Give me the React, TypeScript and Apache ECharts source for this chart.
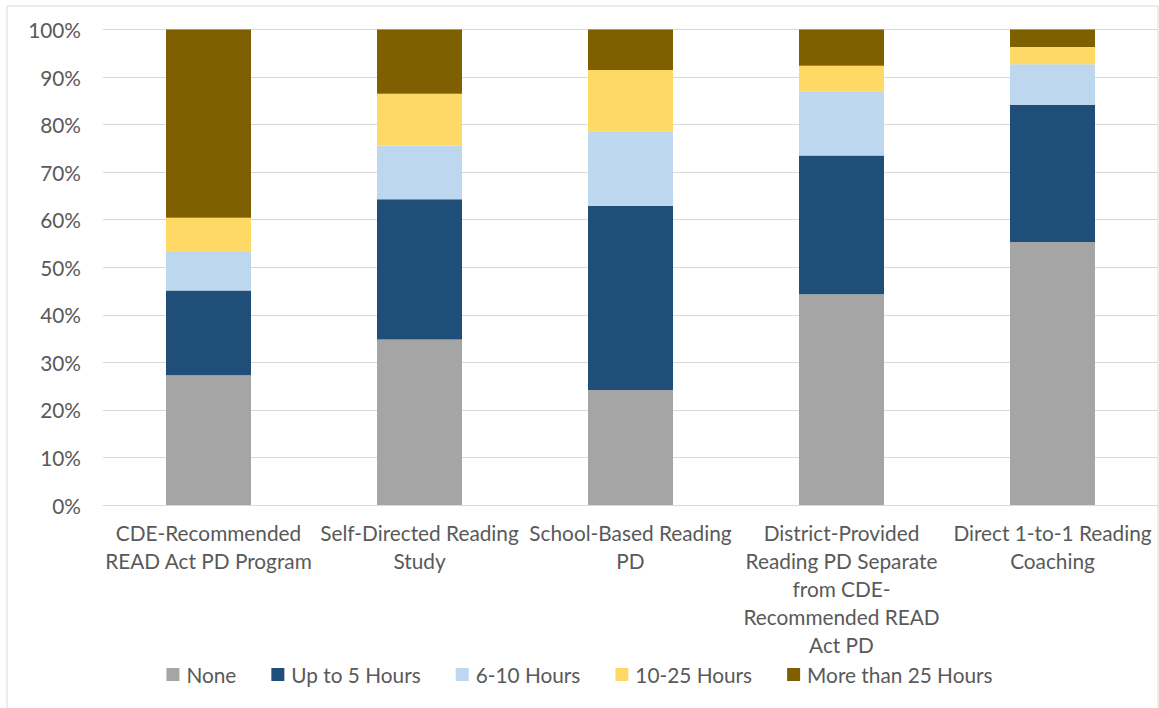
import React, { useEffect, useRef } from "react";
import * as echarts from "echarts";

const categories = [
  "CDE-Recommended\nREAD Act PD Program",
  "Self-Directed Reading\nStudy",
  "School-Based Reading\nPD",
  "District-Provided\nReading PD Separate\nfrom CDE-\nRecommended READ\nAct PD",
  "Direct 1-to-1 Reading\nCoaching",
];

const seriesNames = ["None", "Up to 5 Hours", "6-10 Hours", "10-25 Hours", "More than 25 Hours"];
const noneVals = [27.3, 34.8, 24.2, 44.3, 55.3];
const upTo5Vals = [17.8, 29.5, 38.7, 29.2, 28.9];
const h6to10Vals = [8.1, 11.3, 15.7, 13.5, 8.5];
const h10to25Vals = [7.2, 10.9, 12.9, 5.4, 3.6];
const moreThan25Vals = [39.6, 13.5, 8.5, 7.6, 3.7];
const colors = ["#A5A5A5", "#1F4E79", "#BDD7EE", "#FFD966", "#7F6000"];
const yTicks = [0, 10, 20, 30, 40, 50, 60, 70, 80, 90, 100];

const FONT = "Lato, 'Noto Sans', sans-serif";
const FS = 20.8;

export default function App() {
  const ref = useRef<HTMLDivElement>(null);
  useEffect(() => {
    document.body.style.margin = "0";
    const chart = echarts.init(ref.current!, undefined, { renderer: "svg" });
    const data = [noneVals, upTo5Vals, h6to10Vals, h10to25Vals, moreThan25Vals];
    chart.setOption({
      animation: false,
      textStyle: { fontFamily: FONT },
      graphic: [
        {
          type: "rect",
          shape: { x: 7, y: 6, width: 1151, height: 720 },
          style: { fill: "none", stroke: "#d9d9d9", lineWidth: 1 },
          silent: true,
        },
      ],
      grid: { left: 103, right: 1, top: 29.5, bottom: 203, containLabel: false },
      legend: {
        data: seriesNames,
        left: "center",
        top: 659,
        itemWidth: 13,
        itemHeight: 13,
        itemGap: 35,
        icon: "rect",
        textStyle: { color: "#595959", fontSize: FS, fontFamily: FONT, padding: [0, 0, 0, 2] },
      },
      xAxis: {
        type: "category",
        data: categories,
        axisLine: { lineStyle: { color: "#d9d9d9", width: 1 } },
        axisTick: { show: false },
        axisLabel: {
          color: "#595959",
          fontSize: FS,
          fontFamily: FONT,
          lineHeight: 28,
          margin: 13,
          interval: 0,
        },
      },
      yAxis: {
        type: "value",
        min: yTicks[0],
        max: yTicks[yTicks.length - 1],
        interval: 10,
        axisLine: { show: false },
        axisTick: { show: false },
        splitLine: { lineStyle: { color: "#d9d9d9", width: 1 } },
        axisLabel: {
          color: "#595959",
          fontSize: FS,
          fontFamily: FONT,
          margin: 22,
          formatter: "{value}%",
        },
      },
      series: seriesNames.map((name, i) => ({
        name,
        type: "bar",
        stack: "total",
        barWidth: 85,
        data: data[i],
        itemStyle: { color: colors[i] },
      })),
    });
    return () => chart.dispose();
  }, []);
  return <div ref={ref} style={{ width: 1159, height: 708 }} />;
}
